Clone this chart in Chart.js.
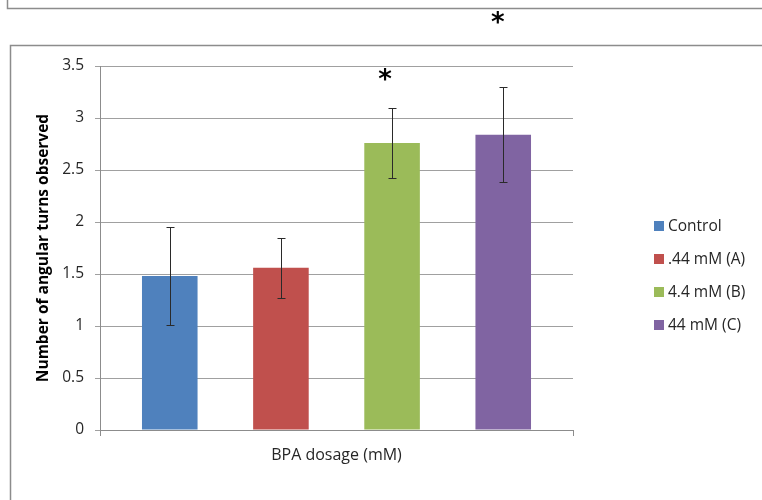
<!DOCTYPE html>
<html>
<head>
<meta charset="utf-8">
<script src="https://cdn.jsdelivr.net/npm/chart.js@4.4.1/dist/chart.umd.min.js"></script>
<style>
  html, body { margin: 0; padding: 0; background: #fff; }
  #wrap { position: relative; width: 762px; height: 500px; overflow: hidden; }
  #c { position: absolute; left: 0; top: 0; }
  #topstar { position: absolute; left: 491px; top: 9px; font: bold 26px "DejaVu Sans", sans-serif; color: #000; line-height: 26px; }
</style>
</head>
<body>
<div id="wrap">
  <canvas id="c" width="762" height="500"></canvas>
  <div id="topstar">*</div>
</div>
<script>
const categories = ["BPA dosage (mM)"];
const seriesNames = ["Control", ".44 mM (A)", "4.4 mM (B)", "44 mM (C)"];
const seriesValues = [1.48, 1.56, 2.76, 2.84];
const seriesErrors = [0.47, 0.29, 0.34, 0.46];
const seriesColors = ["#4F81BD", "#C0504D", "#9BBB59", "#8064A2"];
const yTicks = [0, 0.5, 1, 1.5, 2, 2.5, 3, 3.5];
const starSeries = [2];
const starValue = 3.42;

const FONT = "'Open Sans', sans-serif";

const frames = {
  id: 'frames',
  beforeDraw(chart) {
    const ctx = chart.ctx;
    ctx.save();
    ctx.fillStyle = '#fff';
    ctx.fillRect(0, 0, chart.width, chart.height);
    ctx.strokeStyle = '#8c8c8c';
    ctx.lineWidth = 1.5;
    ctx.beginPath();
    ctx.moveTo(7.5, 0); ctx.lineTo(7.5, 8.5); ctx.lineTo(chart.width, 8.5);
    ctx.stroke();
    ctx.beginPath();
    ctx.moveTo(10.5, chart.height); ctx.lineTo(10.5, 45.5); ctx.lineTo(chart.width, 45.5);
    ctx.stroke();
    ctx.restore();
  }
};

const errorBars = {
  id: 'errorBars',
  afterDatasetsDraw(chart) {
    const ctx = chart.ctx;
    const y = chart.scales.y;
    ctx.save();
    ctx.strokeStyle = '#2a2a2a';
    ctx.lineWidth = 1;
    chart.data.datasets.forEach((ds, i) => {
      const meta = chart.getDatasetMeta(i);
      meta.data.forEach((bar, j) => {
        const v = ds.data[j], e = seriesErrors[i];
        const x = Math.round(bar.x) + 0.5;
        const yt = Math.round(y.getPixelForValue(v + e)) + 0.5;
        const yb = Math.round(y.getPixelForValue(v - e)) + 0.5;
        ctx.beginPath();
        ctx.moveTo(x, yt); ctx.lineTo(x, yb);
        ctx.moveTo(x - 4, yt); ctx.lineTo(x + 4, yt);
        ctx.moveTo(x - 4, yb); ctx.lineTo(x + 4, yb);
        ctx.stroke();
      });
    });
    // significance star
    ctx.fillStyle = '#000';
    ctx.font = "bold 26px 'DejaVu Sans', sans-serif";
    ctx.textAlign = 'center';
    ctx.textBaseline = 'middle';
    starSeries.forEach(i => {
      const bar = chart.getDatasetMeta(i).data[0];
      ctx.fillText('*', bar.x - 7, y.getPixelForValue(starValue) + 7);
    });
    ctx.restore();
  }
};

const sideLegend = {
  id: 'sideLegend',
  afterDraw(chart) {
    const ctx = chart.ctx;
    ctx.save();
    ctx.font = "15.5px " + FONT;
    ctx.textBaseline = 'middle';
    ctx.textAlign = 'left';
    chart.data.datasets.forEach((ds, i) => {
      const cy = 226 + i * 33;
      ctx.fillStyle = ds.backgroundColor;
      ctx.fillRect(654, cy - 5, 10, 10);
      ctx.fillStyle = '#262626';
      ctx.fillText(ds.label, 668, cy + 1);
    });
    ctx.restore();
  }
};

new Chart(document.getElementById('c'), {
  type: 'bar',
  data: {
    labels: categories,
    datasets: seriesNames.map((n, i) => ({
      label: n,
      data: [seriesValues[i]],
      backgroundColor: seriesColors[i],
      borderWidth: 0,
      categoryPercentage: 0.94,
      barPercentage: 0.5
    }))
  },
  options: {
    responsive: false,
    animation: false,
    devicePixelRatio: 1,
    layout: { padding: { left: 0, top: 66, right: 189, bottom: 30 } },
    plugins: { legend: { display: false }, tooltip: { enabled: false } },
    scales: {
      x: {
        afterFit(s) { s.height = 40; },
        grid: { display: true, drawOnChartArea: false, drawTicks: true, tickLength: 6, color: '#8c8c8c' },
        border: { display: true, color: '#8c8c8c', width: 1 },
        ticks: { color: '#262626', font: { family: FONT, size: 16 }, padding: 10 }
      },
      y: {
        min: 0, max: 3.5,
        afterFit(s) { s.width = 100; },
        afterBuildTicks(s) { s.ticks = yTicks.map(v => ({ value: v })); },
        grid: { color: '#a0a0a0', tickLength: 5 },
        border: { display: true, color: '#8c8c8c', width: 1 },
        ticks: { color: '#262626', font: { family: FONT, size: 15.5 }, padding: 11, callback: v => String(v) },
        title: {
          display: true,
          text: 'Number of angular turns observed',
          color: '#000',
          font: { family: FONT, size: 15.5, weight: 'bold' },
          padding: { top: 34, bottom: 0 }
        }
      }
    }
  },
  plugins: [frames, errorBars, sideLegend]
});
</script>
</body>
</html>
